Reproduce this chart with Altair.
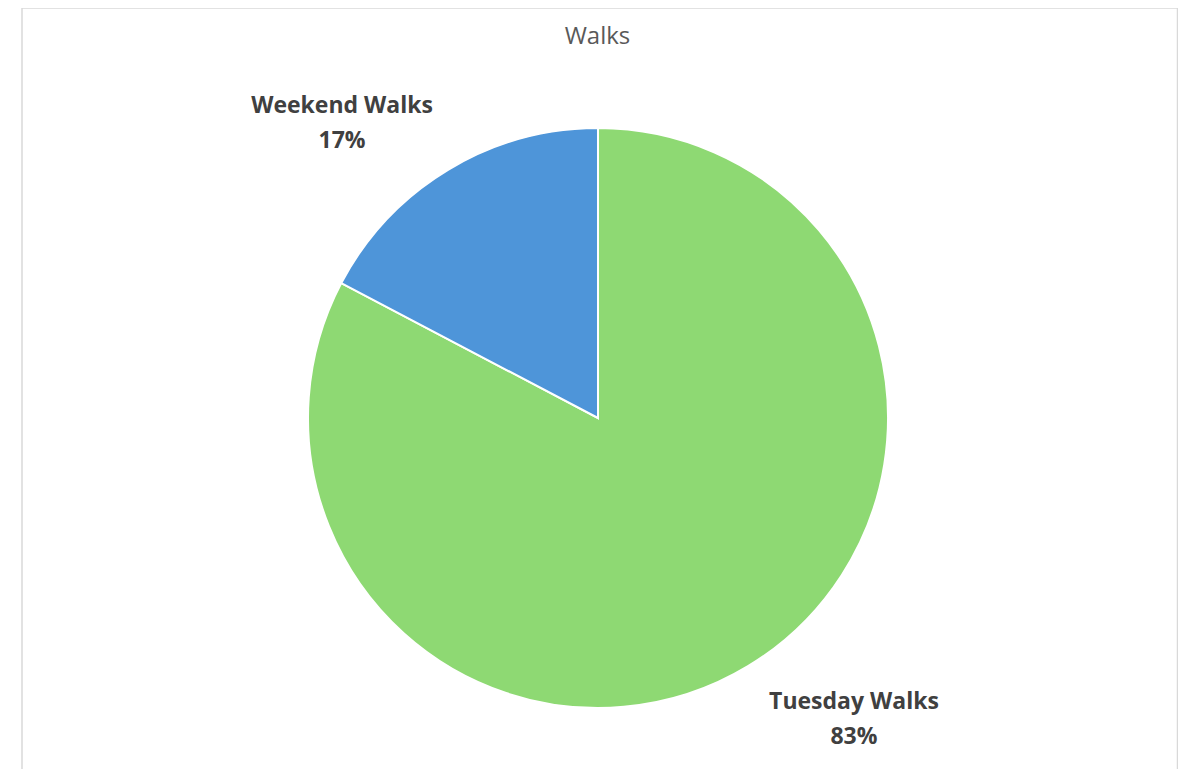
import math
import altair as alt
import pandas as pd

categories = ["Tuesday Walks", "Weekend Walks"]
values = [82.7, 17.3]
slice_order = [0, 1]
colors = ["#8ED973", "#4E95D9"]
title_text = "Walks"

df = pd.DataFrame({"category": categories, "value": values, "order": slice_order})

CX, CY = 590, 360

base = alt.Chart(df)

pie = base.mark_arc(radius=290, stroke="white", strokeWidth=2, x=CX, y=CY).encode(
    theta=alt.Theta("value:Q", stack=True),
    color=alt.Color("category:N", scale=alt.Scale(domain=categories, range=colors), legend=None),
    order=alt.Order("order:Q", sort="ascending"),
)

labels = base.transform_joinaggregate(
    total="sum(value)"
).transform_window(
    cum="sum(value)", sort=[alt.SortField("order")], frame=[None, 0]
).transform_calculate(
    frac="datum.value / datum.total",
    mid="(datum.cum - datum.value / 2) / datum.total - 9.5 / 360",
    label="[datum.category, format(datum.value / datum.total, '.0%')]",
).mark_text(
    radius=393, font="Open Sans", fontSize=23, fontWeight="bold", color="#404040",
    lineHeight=35, baseline="middle", align="center", x=CX, y=CY, dy=-14,
).encode(
    theta=alt.Theta("mid:Q", scale=alt.Scale(domain=[0, 1], range=[0, 2 * math.pi]), stack=False),
    text=alt.Text("label:N"),
)

frame_data = alt.Data(values=[{"k": 1}])
border_top = alt.Chart(frame_data).mark_rule(color="#d9d9d9", strokeWidth=1.5).encode(
    x=alt.value(14), x2=alt.value(1169.5), y=alt.value(-50))
border_left = alt.Chart(frame_data).mark_rule(color="#d9d9d9", strokeWidth=1.5).encode(
    x=alt.value(14), y=alt.value(-50), y2=alt.value(711))
border_right = alt.Chart(frame_data).mark_rule(color="#d9d9d9", strokeWidth=1.5).encode(
    x=alt.value(1169.5), y=alt.value(-50), y2=alt.value(711))

title = alt.Chart(frame_data).mark_text(
    font="Open Sans", fontSize=24, color="#595959", align="center", baseline="middle",
).encode(x=alt.value(589.5), y=alt.value(-21), text=alt.value(title_text))

chart = alt.layer(border_top, border_left, border_right, pie, labels, title).resolve_scale(
    theta="independent"
).properties(
    width=1170,
    height=711,
    padding={"left": 0, "top": 50, "right": 0, "bottom": 0},
    autosize=alt.AutoSizeParams(type="none"),
    background="white",
).configure_view(stroke=None)

chart.save("out.html", embed_options={"renderer": "svg", "actions": False})
